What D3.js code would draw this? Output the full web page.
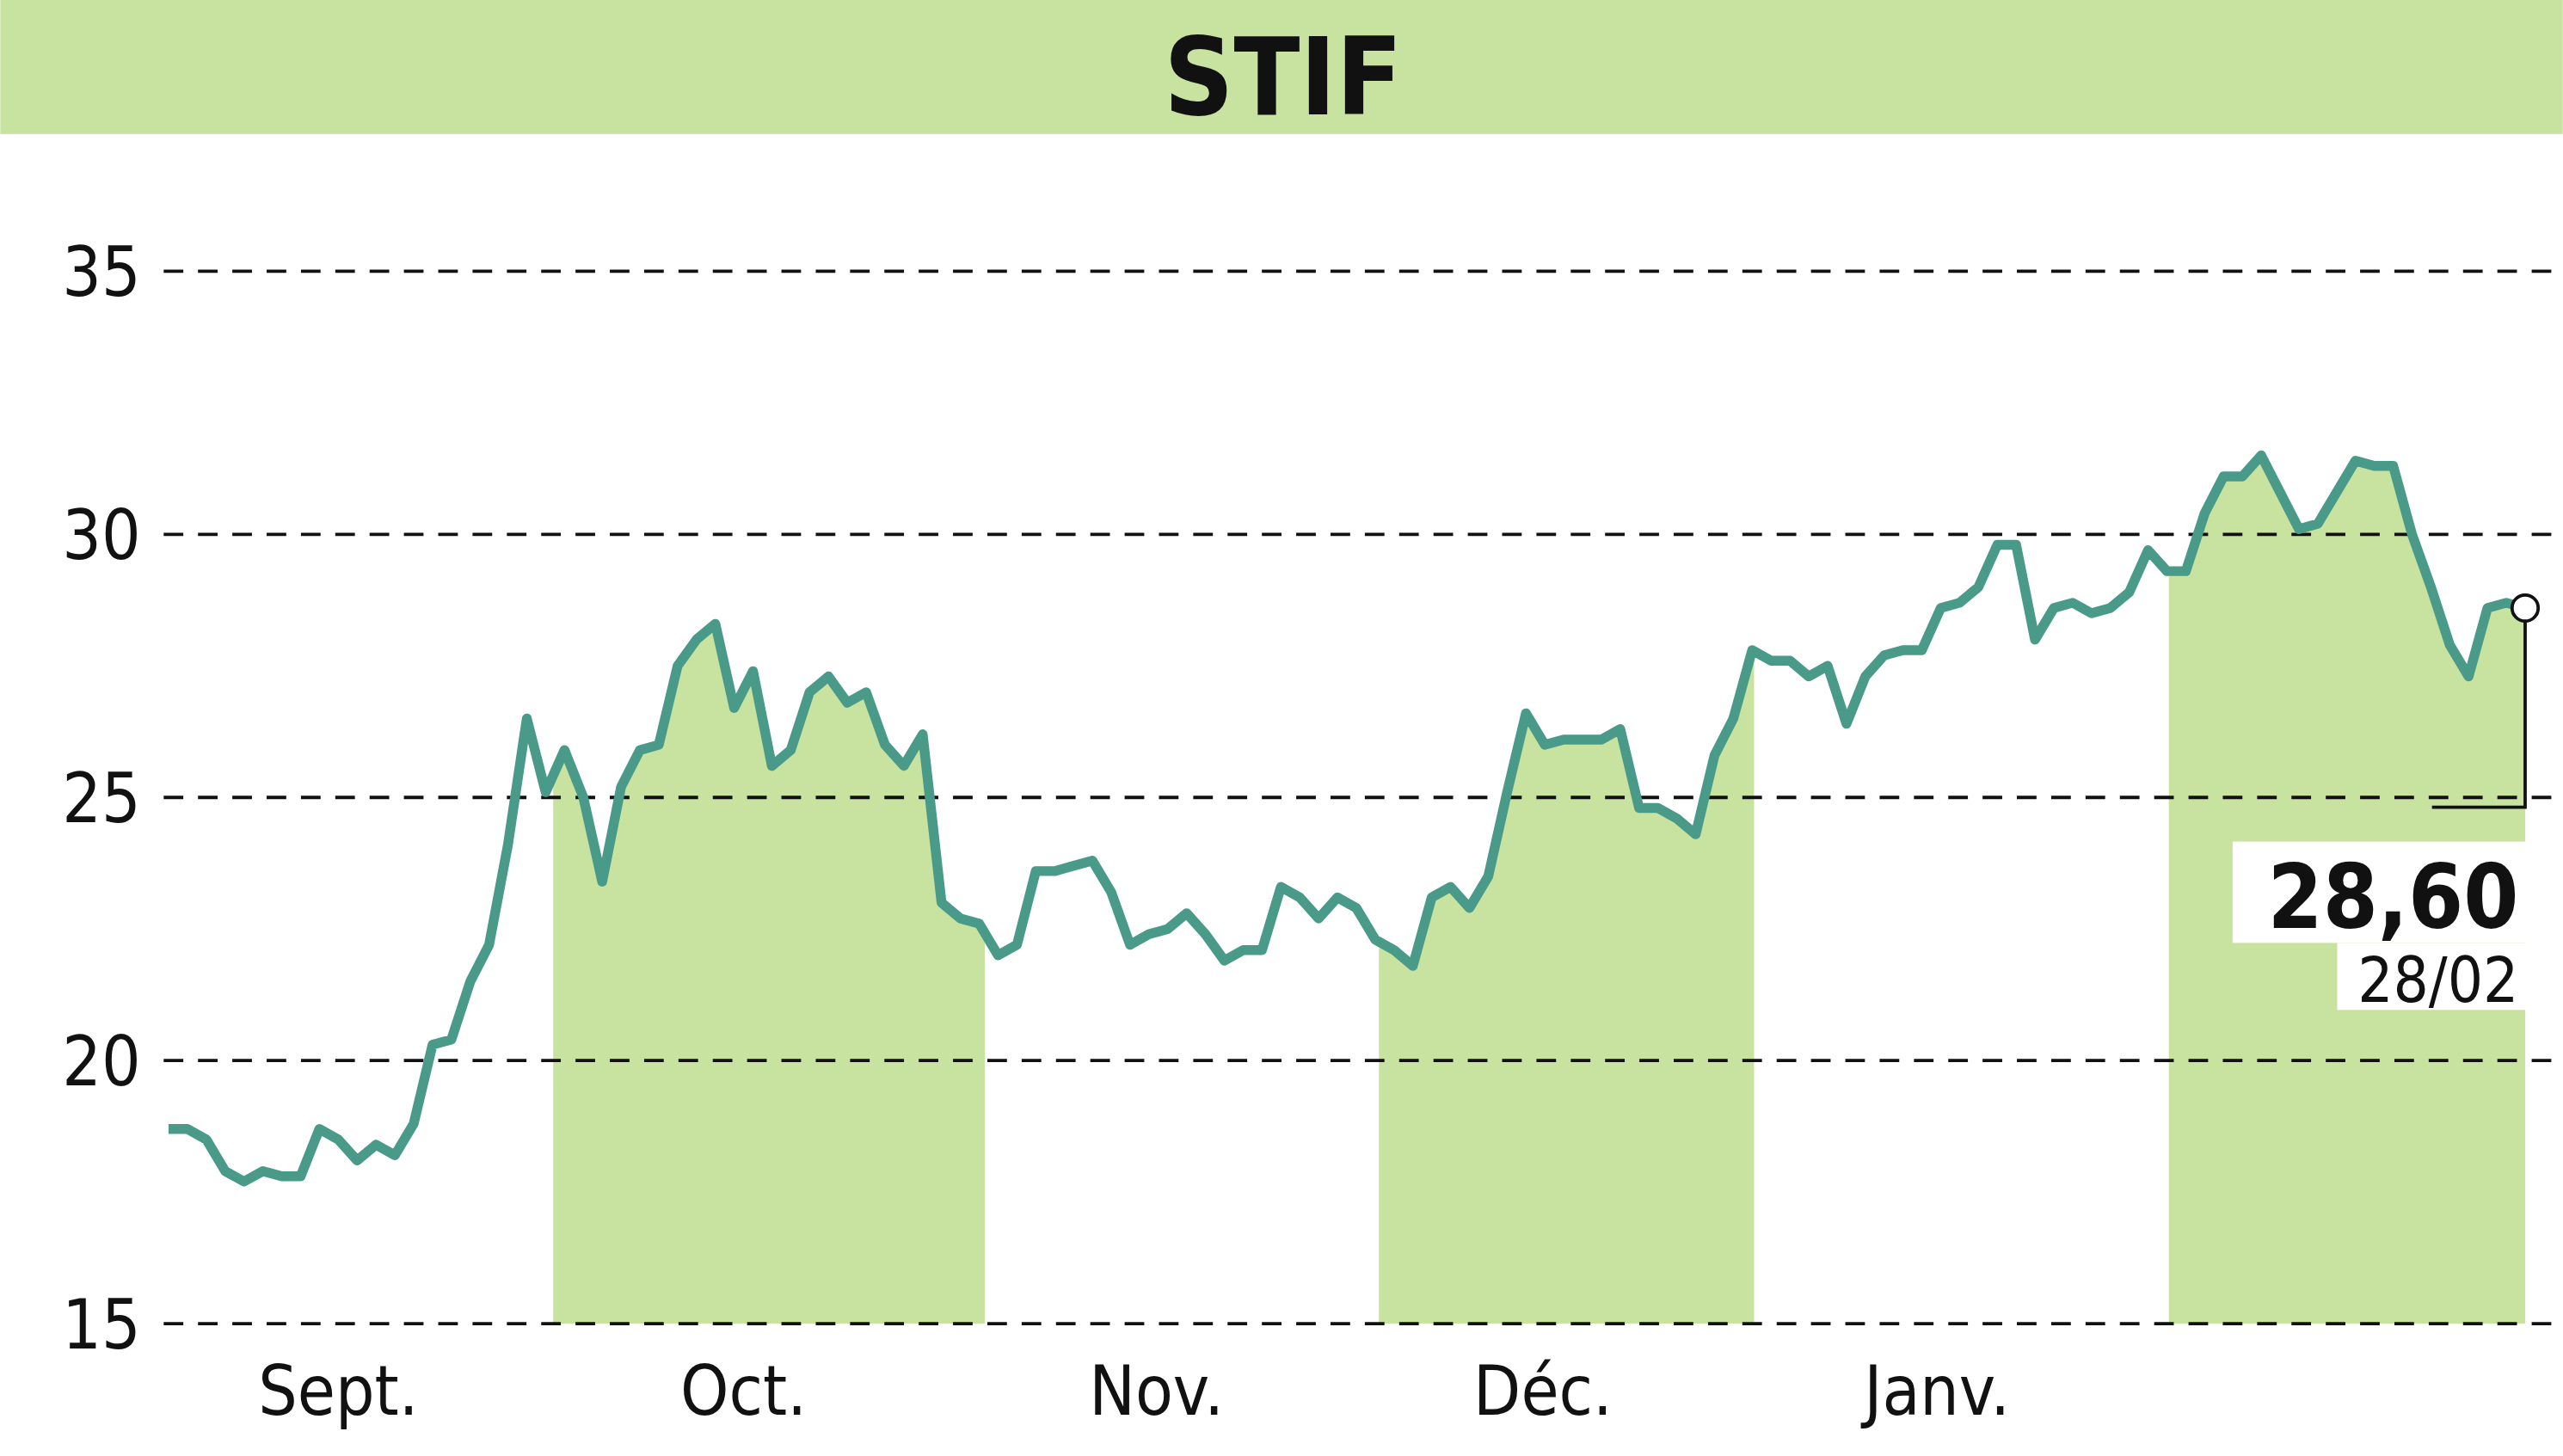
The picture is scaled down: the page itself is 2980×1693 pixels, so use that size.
<!DOCTYPE html><html><head><meta charset="utf-8"><script src="https://cdn.jsdelivr.net/npm/d3@7"></script>
<style>body{margin:0;background:#fff}</style></head><body><script>
const title="STIF";
const values=[18.7,18.7,18.5,17.9,17.7,17.9,17.8,17.8,18.7,18.5,18.1,18.4,18.2,18.8,20.3,20.4,21.5,22.2,24.1,26.5,25.1,25.9,25.0,23.4,25.2,25.9,26.0,27.5,28.0,28.3,26.7,27.4,25.6,25.9,27.0,27.3,26.8,27.0,26.0,25.6,26.2,23.0,22.7,22.6,22.0,22.2,23.6,23.6,23.7,23.8,23.2,22.2,22.4,22.5,22.8,22.4,21.9,22.1,22.1,23.3,23.1,22.7,23.1,22.9,22.3,22.1,21.8,23.1,23.3,22.9,23.5,25.1,26.6,26.0,26.1,26.1,26.1,26.3,24.8,24.8,24.6,24.3,25.8,26.5,27.8,27.6,27.6,27.3,27.5,26.4,27.3,27.7,27.8,27.8,28.6,28.7,29.0,29.8,29.8,28.0,28.6,28.7,28.5,28.6,28.9,29.7,29.3,29.3,30.4,31.1,31.1,31.5,30.8,30.1,30.2,30.8,31.4,31.3,31.3,30.0,29.0,27.9,27.3,28.6,28.7,28.6];
const yTicks=[15,20,25,30,35];
const months=["Sept.","Oct.","Nov.","Déc.","Janv."];
const monthPos=[9.0,30.5,52.4,72.9,93.8];
const bands=[[20.4,43.3],[64.2,84.1],[106.1,125]];
const lastLabel="28,60", lastDate="28/02";
const W=1568,H=891;
const svg=d3.select("body").append("svg").attr("width",2980).attr("height",1693).attr("viewBox",`0 0 ${W} ${H}`);
const font="'DejaVu Sans Condensed','Liberation Sans',sans-serif";
const x=d3.scaleLinear().domain([0,values.length-1]).range([103,1545]);
const y=d3.scaleLinear().domain([15,35]).range([810,166]);
svg.append("rect").attr("width",W).attr("height",82).attr("fill","#c8e2a0");
svg.append("text").attr("x",785).attr("y",70).attr("text-anchor","middle").attr("font-family",font).attr("font-weight","bold").attr("font-size",66).attr("fill","#111").text(title);
const area=d3.area().x((d,i)=>x(i)).y0(y(15)).y1(d=>y(d));
bands.forEach((b,k)=>{
  const cid="c"+k;
  svg.append("clipPath").attr("id",cid).append("rect").attr("x",x(b[0])).attr("y",0).attr("width",x(b[1])-x(b[0])).attr("height",H);
  svg.append("path").datum(values).attr("d",area).attr("fill","#c8e2a0").attr("clip-path",`url(#${cid})`);
});
yTicks.forEach(t=>{
  svg.append("line").attr("x1",100).attr("x2",W).attr("y1",y(t)).attr("y2",y(t)).attr("stroke","#111").attr("stroke-width",2).attr("stroke-dasharray","12,9");
  svg.append("text").attr("x",86).attr("y",y(t)+15).attr("text-anchor","end").attr("font-family",font).attr("font-size",42).attr("fill","#111").text(t);
});
months.forEach((m,i)=>svg.append("text").attr("x",x(monthPos[i])).attr("y",866).attr("text-anchor","middle").attr("font-family",font).attr("font-size",42).attr("fill","#111").text(m));
svg.append("path").datum(values).attr("d",d3.line().x((d,i)=>x(i)).y(d=>y(d))).attr("fill","none").attr("stroke","#4a9a8a").attr("stroke-width",6).attr("stroke-linejoin","round");
const lx=x(values.length-1),ly=y(values[values.length-1]);
svg.append("path").attr("d",`M${lx},${ly}V494H1488`).attr("fill","none").attr("stroke","#111").attr("stroke-width",2);
svg.append("circle").attr("cx",lx).attr("cy",ly).attr("r",8).attr("fill","#fff").attr("stroke","#111").attr("stroke-width",2);
svg.append("rect").attr("x",1366).attr("y",515).attr("width",179).attr("height",62).attr("fill","#fff");
svg.append("rect").attr("x",1430).attr("y",577).attr("width",115).attr("height",41).attr("fill","#fff");
svg.append("text").attr("x",1541).attr("y",568).attr("text-anchor","end").attr("font-family",font).attr("font-weight","bold").attr("font-size",54).attr("fill","#111").text(lastLabel);
svg.append("text").attr("x",1541).attr("y",613).attr("text-anchor","end").attr("font-family",font).attr("font-size",38).attr("fill","#111").text(lastDate);
</script></body></html>
